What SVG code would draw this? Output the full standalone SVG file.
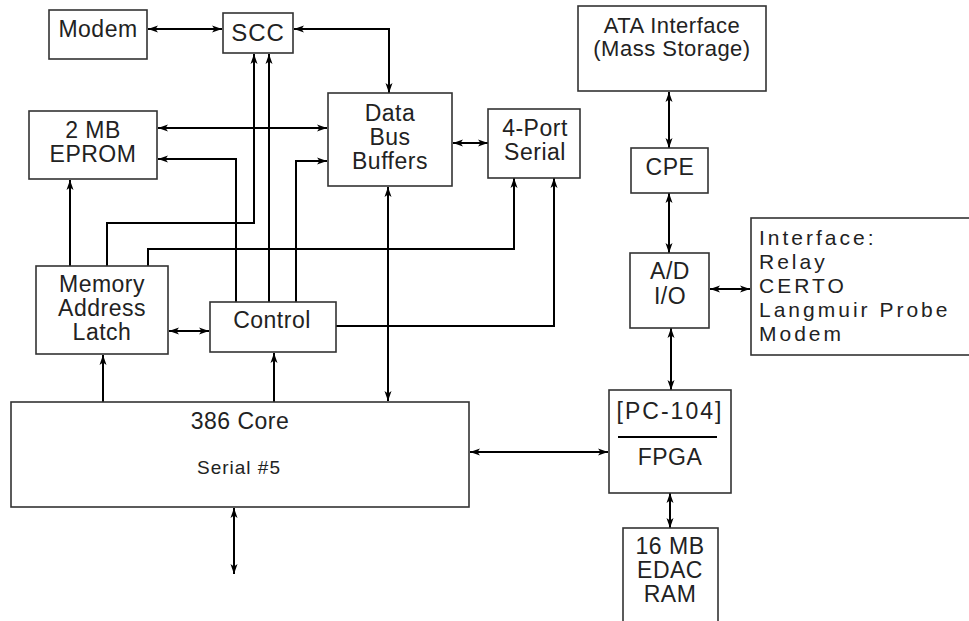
<svg xmlns="http://www.w3.org/2000/svg" width="969" height="621" viewBox="0 0 969 621">
<style>
.box{fill:#fff;stroke:#333;stroke-width:1.6}
.t{font-family:"Liberation Sans",Arial,sans-serif;font-size:23px;fill:#222;text-anchor:middle;letter-spacing:0.5px}
.w{letter-spacing:2px}
.l{text-anchor:start;font-size:21px;letter-spacing:3px}
.s{font-size:19px;letter-spacing:1px}
.c{fill:none;stroke:#000;stroke-width:2}
.a2{marker-start:url(#ah);marker-end:url(#ah)}
.a1{marker-end:url(#ah)}
</style>
<defs>
<marker id="ah" markerUnits="userSpaceOnUse" markerWidth="10" markerHeight="8" refX="10" refY="4" orient="auto-start-reverse">
<path d="M0,0.5 L10,4 L0,7.5 L2.5,4 Z" fill="#000"/>
</marker>
</defs>
<rect width="969" height="621" fill="#fff"/>
<g id="connectors">
<path class="c a2" d="M148,29 H222"/>
<path class="c a2" d="M294,29 H389 V93"/>
<path class="c a2" d="M158,128 H327"/>
<path class="c a1" d="M236,302 V159 H158"/>
<path class="c a1" d="M269,302 V54"/>
<path class="c a1" d="M296,302 V161 H327"/>
<path class="c a1" d="M107,266 V223 H254 V54"/>
<path class="c a1" d="M70,266 V180"/>
<path class="c a1" d="M148,266 V249 H514 V178"/>
<path class="c a1" d="M336,326 H554 V178"/>
<path class="c a2" d="M169,331 H209"/>
<path class="c a1" d="M103,402 V355"/>
<path class="c a1" d="M274,402 V353"/>
<path class="c a2" d="M388,187 V401"/>
<path class="c a2" d="M453,143 H488"/>
<path class="c a2" d="M669,92 V148"/>
<path class="c a2" d="M669,193 V253"/>
<path class="c a2" d="M710,289 H750"/>
<path class="c a2" d="M671,328 V390"/>
<path class="c a2" d="M470,452 H608"/>
<path class="c a2" d="M670,493 V528"/>
<path class="c a2" d="M234,508 V574"/>
</g>
<g id="modem"><rect class="box" x="49" y="10" width="98" height="49"/><text class="t" x="98" y="37">Modem</text></g>
<g id="scc"><rect class="box" x="223" y="13" width="70" height="40"/><text class="t" x="258" y="41" style="font-size:24px;letter-spacing:1px">SCC</text></g>
<g id="eprom"><rect class="box" x="29" y="111" width="128" height="68"/><text class="t" x="93" y="138">2 MB</text><text class="t" x="93" y="162">EPROM</text></g>
<g id="dbb"><rect class="box" x="328" y="93" width="124" height="93"/><text class="t" x="390" y="121">Data</text><text class="t" x="390" y="145">Bus</text><text class="t" x="390" y="169">Buffers</text></g>
<g id="serial4"><rect class="box" x="488" y="109" width="92" height="69"/><text class="t" x="535" y="136">4-Port</text><text class="t" x="535" y="160">Serial</text></g>
<g id="mal"><rect class="box" x="36" y="266" width="132" height="88"/><text class="t" x="102" y="292">Memory</text><text class="t" x="102" y="316">Address</text><text class="t" x="102" y="340">Latch</text></g>
<g id="control"><rect class="box" x="210" y="302" width="126" height="50"/><text class="t" x="272" y="328">Control</text></g>
<g id="core"><rect class="box" x="11" y="402" width="458" height="105"/><text class="t" x="240" y="429">386 Core</text><text class="t s" x="239" y="474">Serial #5</text></g>
<g id="ata"><rect class="box" x="578" y="6" width="188" height="85"/><text class="t" x="672" y="33" style="font-size:22px">ATA Interface</text><text class="t" x="672" y="56" style="font-size:22px">(Mass Storage)</text></g>
<g id="cpe"><rect class="box" x="631" y="148" width="77" height="45"/><text class="t" x="670" y="175">CPE</text></g>
<g id="adio"><rect class="box" x="630" y="253" width="79" height="75"/><text class="t" x="670" y="279">A/D</text><text class="t" x="670" y="304">I/O</text></g>
<g id="interface"><rect class="box" x="751" y="218" width="230" height="137"/><text class="t l" x="759" y="245">Interface:</text><text class="t l" x="759" y="269">Relay</text><text class="t l" x="759" y="293">CERTO</text><text class="t l" x="759" y="317">Langmuir Probe</text><text class="t l" x="759" y="341">Modem</text></g>
<g id="fpga"><rect class="box" x="609" y="390" width="122" height="103"/><text class="t w" x="670" y="419">[PC-104]</text><line x1="618" y1="437" x2="717" y2="437" stroke="#000" stroke-width="2"/><text class="t" x="670" y="465">FPGA</text></g>
<g id="edac"><rect class="box" x="623" y="528" width="95" height="110"/><text class="t" x="670" y="554">16 MB</text><text class="t" x="670" y="578">EDAC</text><text class="t" x="670" y="602">RAM</text></g>
</svg>
